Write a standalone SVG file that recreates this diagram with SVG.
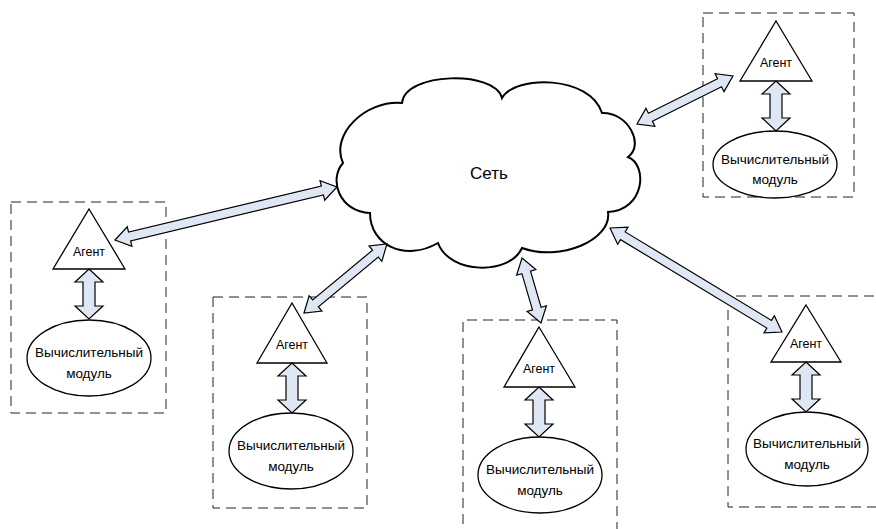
<svg xmlns="http://www.w3.org/2000/svg" width="876" height="529" viewBox="0 0 876 529">
<style>
.box{fill:none;stroke:#222;stroke-width:1;stroke-dasharray:10 6}
.tri{fill:#fff;stroke:#000;stroke-width:1.3}
.ell{fill:#fff;stroke:#000;stroke-width:1.3}
.arr{fill:#dfe7f5;stroke:#000;stroke-width:1.2;stroke-linejoin:miter}
.cloud{fill:#fff;stroke:#000;stroke-width:2}
text{font-family:"Liberation Sans",Arial,sans-serif;fill:#000;text-anchor:middle}
.ag{font-size:12.5px}
.md{font-size:13.5px}
.net{font-size:17px}
</style>
<rect width="876" height="529" fill="#fff"/>
<g id="network">
<path class="cloud" d="M 402,103 C 405,72 495,70 502,98 C 515,75 590,75 602,113 C 628,112 645,145 628,157 C 648,165 645,210 608,212 C 612,240 560,262 522,248 C 510,275 450,275 438,243 C 405,262 370,245 370,213 C 340,212 328,180 343,163 C 330,135 365,100 402,103 Z"/>
<text class="net" x="489" y="179">Сеть</text>
</g>
<g id="node1">
<rect class="box" x="11" y="202" width="155" height="211"/>
<polygon class="tri" points="89,209 125,269 53,269"/>
<text class="ag" x="89" y="256">Агент</text>
<ellipse class="ell" cx="89" cy="358" rx="62" ry="38"/>
<text class="md" x="89" y="357">Вычислительный</text>
<text class="md" x="89" y="378">модуль</text>
</g>
<g id="node2">
<rect class="box" x="703" y="13" width="151" height="184"/>
<polygon class="tri" points="776,21 812,81 740,81"/>
<text class="ag" x="776" y="67">Агент</text>
<ellipse class="ell" cx="775" cy="164.5" rx="62" ry="33.5"/>
<text class="md" x="775" y="164">Вычислительный</text>
<text class="md" x="775" y="184">модуль</text>
</g>
<g id="node3">
<rect class="box" x="213" y="297" width="154" height="211"/>
<polygon class="tri" points="292,303 327,363 257,363"/>
<text class="ag" x="292" y="349">Агент</text>
<ellipse class="ell" cx="291" cy="451" rx="62" ry="38"/>
<text class="md" x="291" y="450">Вычислительный</text>
<text class="md" x="291" y="471">модуль</text>
</g>
<g id="node4">
<path class="box" d="M 463,540 V 320 H 617 V 540"/>
<polygon class="tri" points="539,327 575,387 504,387"/>
<text class="ag" x="539" y="373">Агент</text>
<ellipse class="ell" cx="540" cy="475" rx="62" ry="38"/>
<text class="md" x="540" y="474">Вычислительный</text>
<text class="md" x="540" y="495">модуль</text>
</g>
<g id="node5">
<path class="box" d="M 890,296 H 728 V 507 H 890"/>
<polygon class="tri" points="806,305 841,362 771,362"/>
<text class="ag" x="806" y="348">Агент</text>
<ellipse class="ell" cx="807" cy="449" rx="61" ry="37"/>
<text class="md" x="807" y="448">Вычислительный</text>
<text class="md" x="807" y="469">модуль</text>
</g>
<g id="connectors">
<path class="arr" transform="translate(115,240) rotate(-13.43)" d="M0,0 L15,-10 L15,-4.5 L213.2,-4.5 L213.2,-10 L228.2,0 L213.2,10 L213.2,4.5 L15,4.5 L15,10 Z"/>
<path class="arr" transform="translate(637,124) rotate(-26.57)" d="M0,0 L15,-10 L15,-4.5 L92.3,-4.5 L92.3,-10 L107.3,0 L92.3,10 L92.3,4.5 L15,4.5 L15,10 Z"/>
<path class="arr" transform="translate(304,313) rotate(-39.74)" d="M0,0 L15,-10 L15,-4.5 L92.9,-4.5 L92.9,-10 L107.9,0 L92.9,10 L92.9,4.5 L15,4.5 L15,10 Z"/>
<path class="arr" transform="translate(522,258) rotate(73.7)" d="M0,0 L15,-10 L15,-4.5 L52.7,-4.5 L52.7,-10 L67.7,0 L52.7,10 L52.7,4.5 L15,4.5 L15,10 Z"/>
<path class="arr" transform="translate(610,228) rotate(31.16)" d="M0,0 L15,-10 L15,-4.5 L186,-4.5 L186,-10 L201,0 L186,10 L186,4.5 L15,4.5 L15,10 Z"/>
<path class="arr" transform="translate(89,269)" d="M0,0 L14,13 L6,13 L6,37 L14,37 L0,50 L-14,37 L-6,37 L-6,13 L-14,13 Z"/>
<path class="arr" transform="translate(776,81)" d="M0,0 L14,13 L6,13 L6,37 L14,37 L0,50 L-14,37 L-6,37 L-6,13 L-14,13 Z"/>
<path class="arr" transform="translate(292,363)" d="M0,0 L14,13 L6,13 L6,37 L14,37 L0,50 L-14,37 L-6,37 L-6,13 L-14,13 Z"/>
<path class="arr" transform="translate(539,387)" d="M0,0 L14,13 L6,13 L6,37 L14,37 L0,50 L-14,37 L-6,37 L-6,13 L-14,13 Z"/>
<path class="arr" transform="translate(806,362)" d="M0,0 L14,13 L6,13 L6,37 L14,37 L0,50 L-14,37 L-6,37 L-6,13 L-14,13 Z"/>
</g>
</svg>
